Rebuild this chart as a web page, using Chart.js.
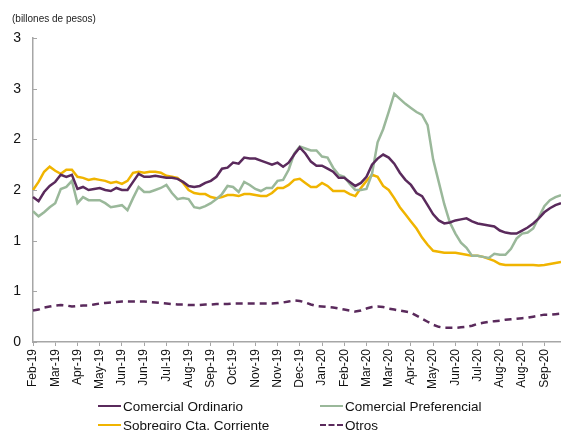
<!DOCTYPE html>
<html>
<head>
<meta charset="utf-8">
<script src="https://cdn.jsdelivr.net/npm/chart.js@4.4.1/dist/chart.umd.min.js"></script>
<style>
  body { margin: 0; background: #fff; }
  #wrap { position: relative; width: 561px; height: 430px; overflow: hidden; }
  .leg { position: absolute; font: 13.5px "Liberation Sans", Arial, sans-serif; color: #111; white-space: nowrap; line-height: 16px; }
  .leg i { display: inline-block; width: 23px; height: 0; border-top: 2px solid; vertical-align: middle; margin-right: 2px; position: relative; top: -1px; }
  .leg i.dash { border-top-style: dashed; border-top-width: 2px; }
</style>
</head>
<body>
<div id="wrap">
  <canvas id="myChart" width="561" height="430"></canvas>
  <div class="leg" style="left:98px; top:399px;"><i style="border-color:#5a2a5c"></i>Comercial Ordinario</div>
  <div class="leg" style="left:320px; top:399px;"><i style="border-color:#9ab89a"></i>Comercial Preferencial</div>
  <div class="leg" style="left:98px; top:418px;"><i style="border-color:#f0b400"></i>Sobregiro Cta. Corriente</div>
  <div class="leg" style="left:320px; top:418px;"><i class="dash" style="border-color:#5a2a5c"></i>Otros</div>
</div>
<script>
// one label every 4 weekly points
var tickLabels = ['Feb-19', 'Mar-19', 'Apr-19', 'May-19', 'Jun-19', 'Jun-19', 'Jul-19', 'Aug-19',
    'Sep-19', 'Oct-19', 'Nov-19', 'Nov-19', 'Dec-19', 'Jan-20', 'Feb-20', 'Mar-20',
    'Mar-20', 'Apr-20', 'May-20', 'Jun-20', 'Jul-20', 'Aug-20', 'Aug-20', 'Sep-20'];

var ordinario = [1.43, 1.39, 1.48, 1.54, 1.58, 1.65, 1.63, 1.65,
    1.51, 1.53, 1.50, 1.51, 1.52, 1.50, 1.49, 1.52,
    1.50, 1.50, 1.58, 1.66, 1.63, 1.63, 1.64, 1.63,
    1.62, 1.62, 1.61, 1.58, 1.54, 1.53, 1.54, 1.57,
    1.59, 1.63, 1.71, 1.72, 1.77, 1.76, 1.82, 1.81,
    1.81, 1.79, 1.77, 1.75, 1.77, 1.73, 1.77, 1.85,
    1.92, 1.86, 1.78, 1.74, 1.74, 1.71, 1.68, 1.62,
    1.62, 1.58, 1.54, 1.57, 1.63, 1.75, 1.81, 1.85,
    1.82, 1.76, 1.67, 1.60, 1.55, 1.47, 1.44, 1.35,
    1.26, 1.20, 1.17, 1.18, 1.20, 1.21, 1.22, 1.19,
    1.17, 1.16, 1.15, 1.14, 1.10, 1.08, 1.07, 1.07,
    1.10, 1.13, 1.17, 1.22, 1.28, 1.32, 1.35, 1.37];

var preferencial = [1.29, 1.24, 1.28, 1.33, 1.37, 1.51, 1.53, 1.59,
    1.37, 1.43, 1.40, 1.40, 1.40, 1.37, 1.33, 1.34,
    1.35, 1.30, 1.42, 1.53, 1.48, 1.48, 1.50, 1.52,
    1.55, 1.47, 1.41, 1.42, 1.41, 1.33, 1.32, 1.34,
    1.37, 1.41, 1.46, 1.54, 1.53, 1.48, 1.58, 1.55,
    1.51, 1.49, 1.52, 1.52, 1.59, 1.60, 1.70, 1.86,
    1.93, 1.91, 1.89, 1.89, 1.83, 1.82, 1.72, 1.65,
    1.63, 1.56, 1.50, 1.50, 1.51, 1.66, 1.97, 2.10,
    2.27, 2.45, 2.40, 2.35, 2.31, 2.27, 2.24, 2.14,
    1.80, 1.58, 1.36, 1.18, 1.07, 0.98, 0.93, 0.85,
    0.85, 0.84, 0.83, 0.87, 0.86, 0.86, 0.92, 1.02,
    1.07, 1.08, 1.12, 1.23, 1.34, 1.40, 1.43, 1.45];

var sobregiro = [1.50, 1.58, 1.68, 1.73, 1.69, 1.66, 1.70, 1.70,
    1.63, 1.62, 1.60, 1.61, 1.60, 1.59, 1.57, 1.58,
    1.56, 1.59, 1.67, 1.68, 1.67, 1.68, 1.68, 1.67,
    1.64, 1.63, 1.62, 1.57, 1.50, 1.47, 1.46, 1.46,
    1.43, 1.42, 1.43, 1.45, 1.45, 1.44, 1.46, 1.46,
    1.45, 1.44, 1.44, 1.47, 1.52, 1.52, 1.55, 1.60,
    1.61, 1.57, 1.53, 1.53, 1.57, 1.54, 1.49, 1.49,
    1.49, 1.46, 1.44, 1.52, 1.59, 1.65, 1.63, 1.54,
    1.50, 1.42, 1.33, 1.26, 1.19, 1.12, 1.03, 0.96,
    0.90, 0.89, 0.88, 0.88, 0.88, 0.87, 0.86, 0.85,
    0.85, 0.84, 0.82, 0.80, 0.77, 0.76, 0.76, 0.76,
    0.76, 0.76, 0.76, 0.755, 0.76, 0.77, 0.78, 0.79];

var otros = [0.31, 0.32, 0.34, 0.35, 0.36, 0.365, 0.36, 0.35,
    0.355, 0.36, 0.36, 0.37, 0.38, 0.385, 0.39, 0.395,
    0.40, 0.40, 0.40, 0.40, 0.40, 0.395, 0.39, 0.385,
    0.38, 0.375, 0.37, 0.37, 0.365, 0.365, 0.365, 0.37,
    0.37, 0.375, 0.375, 0.375, 0.38, 0.38, 0.38, 0.38,
    0.38, 0.38, 0.38, 0.38, 0.385, 0.39, 0.40, 0.41,
    0.405, 0.39, 0.37, 0.355, 0.35, 0.345, 0.34, 0.33,
    0.32, 0.31, 0.30, 0.31, 0.33, 0.345, 0.35, 0.345,
    0.33, 0.32, 0.31, 0.30, 0.29, 0.26, 0.23, 0.20,
    0.17, 0.15, 0.14, 0.14, 0.14, 0.145, 0.15, 0.16,
    0.18, 0.19, 0.20, 0.205, 0.21, 0.22, 0.225, 0.23,
    0.235, 0.24, 0.25, 0.26, 0.27, 0.27, 0.275, 0.28];

var labels = ordinario.map(function (v, i) {
    return i % 4 === 0 ? tickLabels[i / 4] : '';
});

var purple = '#5a2a5c';
var green = '#9ab89a';
var yellow = '#f0b400';
var axisGrey = '#a6a6a6';

// small tick marks on the inside of the y axis
var innerTicks = {
    id: 'innerTicks',
    afterDraw: function (chart) {
        var c = chart.ctx, y = chart.scales.y, left = chart.chartArea.left;
        c.save();
        c.strokeStyle = axisGrey;
        c.lineWidth = 1;
        y.ticks.forEach(function (t) {
            var py = Math.round(y.getPixelForValue(t.value)) + 0.5;
            c.beginPath();
            c.moveTo(left, py);
            c.lineTo(left + 4, py);
            c.stroke();
        });
        c.restore();
    }
};

function line(label, data, color, dash) {
    return {
        label: label,
        data: data,
        borderColor: color,
        backgroundColor: color,
        borderWidth: 2.5,
        borderDash: dash || [],
        pointRadius: 0,
        tension: 0,
        fill: false
    };
}

var ctx = document.getElementById('myChart').getContext('2d');
var myChart = new Chart(ctx, {
    type: 'line',
    data: {
        labels: labels,
        datasets: [
            line('Comercial Ordinario', ordinario, purple),
            line('Comercial Preferencial', preferencial, green),
            line('Sobregiro Cta. Corriente', sobregiro, yellow),
            line('Otros', otros, purple, [7, 5])
        ]
    },
    options: {
        responsive: false,
        animation: false,
        layout: {
            padding: { left: 12, right: 0, top: 0, bottom: 32 }
        },
        plugins: {
            legend: { display: false },
            tooltip: { enabled: false },
            title: {
                display: true,
                text: '(billones de pesos)',
                align: 'start',
                color: '#222',
                font: { family: '"Liberation Sans", Arial, sans-serif', size: 10, weight: 'normal' },
                padding: { top: 13, bottom: 13 }
            }
        },
        scales: {
            y: {
                min: 0,
                max: 3,
                afterFit: function (scale) { scale.width = 21; },
                ticks: {
                    stepSize: 0.5,
                    padding: 12,
                    color: '#111',
                    font: { family: '"Liberation Sans", Arial, sans-serif', size: 14 },
                    callback: function (v) { return Math.round(v); }
                },
                grid: { drawOnChartArea: false, drawTicks: false },
                border: { color: axisGrey, width: 1.5 }
            },
            x: {
                offset: false,
                afterFit: function (scale) {
                    scale.height = 56;
                    scale.paddingLeft = 0;
                    scale.paddingRight = 0;
                },
                ticks: {
                    autoSkip: false,
                    minRotation: 90,
                    maxRotation: 90,
                    padding: 3,
                    color: '#111',
                    font: { family: '"Liberation Sans", Arial, sans-serif', size: 12 },
                    callback: function (v) { return this.getLabelForValue(v); }
                },
                grid: {
                    drawOnChartArea: false,
                    tickLength: 4,
                    tickColor: function (c) { return c.index % 4 === 0 ? axisGrey : 'rgba(0,0,0,0)'; }
                },
                border: { color: axisGrey, width: 1.5 }
            }
        }
    },
    plugins: [innerTicks]
});
</script>
</body>
</html>
